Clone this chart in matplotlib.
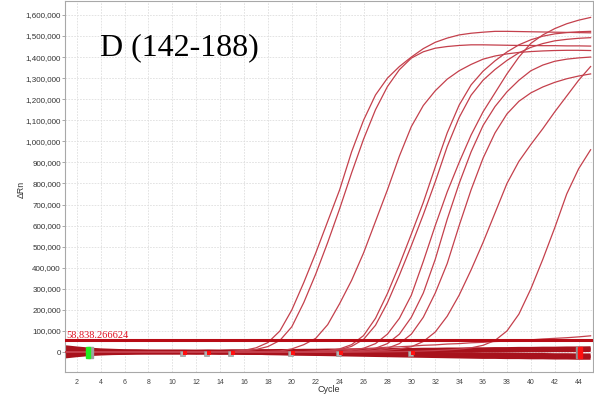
import numpy as np
import matplotlib
matplotlib.use("Agg")
import matplotlib.pyplot as plt
from matplotlib.patches import Rectangle

# cycles 1..45
cycles = list(range(1, 46))

# amplification curves, delta Rn in thousands
curve_a = [2, 1, 0, 0, -1, 0, 1, 0, 0, -1, 0, 0, 1, 1,
           3, 8, 20, 45, 100, 200, 330, 470, 620, 770, 950, 1100, 1220, 1300, 1355, 1400,
           1440, 1470, 1490, 1505, 1513, 1518, 1522, 1522, 1521, 1520, 1519, 1518, 1517, 1516, 1515]
curve_b = [-2, -1, 0, 0, 0, 1, 0, 0, -1, 0, 0, 1, 0, 1,
           2, 5, 12, 26, 55, 120, 235, 370, 520, 680, 850, 1010, 1150, 1260, 1340, 1395,
           1425, 1442, 1450, 1455, 1458, 1458, 1457, 1456, 1455, 1455, 1454, 1454, 1453, 1453, 1452]
curve_c = [0, 1, 0, -1, 0, 0, 1, 0, 0, 0, -1, 0, 0, 1, 0, 1, 2, 3,
           5, 15, 35, 65, 130, 230, 340, 470, 620, 770, 930, 1070, 1170, 1240, 1295, 1335,
           1365, 1390, 1405, 1415, 1422, 1426, 1429, 1431, 1432, 1432, 1431]
curve_d = [1, 0, 0, 0, -1, 0, 0, 1, 0, 0, 0, 0, -1, 0, 0, 1, 0, 0, 1, 1, 1,
           2, 6, 15, 35, 78, 160, 278, 414, 560, 710, 878, 1040, 1172, 1268, 1333, 1382,
           1424, 1458, 1482, 1499, 1510, 1516, 1520, 1522]
curve_e = [0, -1, 0, 0, 1, 0, 0, 0, 0, -1, 0, 0, 0, 1, 0, 0, 0, 1, 0, 0, 1,
           1, 4, 11, 27, 60, 127, 234, 365, 505, 652, 808, 975, 1113, 1219, 1290, 1341,
           1384, 1420, 1446, 1464, 1477, 1484, 1489, 1492]
curve_f = [0, 0, 1, 0, 0, -1, 0, 0, 0, 1, 0, 0, 0, 0, -1, 0, 0, 0, 1, 0, 0, 1, 1,
           3, 8, 18, 40, 85, 160, 270, 430, 600, 760, 900, 1030, 1140, 1230, 1320, 1400,
           1465, 1505, 1535, 1558, 1575, 1588]
curve_g = [0, 1, 0, 0, 0, 0, -1, 0, 0, 0, 1, 0, 0, 0, 0, 0, -1, 0, 0, 0, 1, 0, 1, 1,
           3, 8, 18, 40, 85, 165, 280, 440, 630, 800, 950, 1075, 1165, 1235, 1290, 1335,
           1362, 1380, 1390, 1396, 1400]
curve_h = [-1, 0, 0, 0, 1, 0, 0, 0, 0, 0, 0, -1, 0, 0, 0, 0, 1, 0, 0, 0, 0, 0, 1, 1, 2,
           3, 8, 18, 40, 85, 165, 280, 420, 600, 770, 920, 1040, 1130, 1190, 1230, 1258,
           1280, 1297, 1310, 1320]
curve_i = [0, 0, 0, 1, 0, 0, 0, -1, 0, 0, 0, 0, 0, 1, 0, 0, 0, 0, -1, 0, 0, 0, 1, 1, 2, 3,
           5, 9, 15, 25, 50, 95, 170, 270, 390, 520, 660, 800, 905, 985, 1060, 1140,
           1215, 1290, 1355]
curve_j = [1, 0, 0, 0, 0, -1, 0, 0, 0, 0, 0, 1, 0, 0, 0, 0, 0, -1, 0, 0, 0, 0, 1, 0, 0, 0,
           1, 1, 2, 3, 5, 7, 10, 14, 20, 32, 55, 100, 180, 300, 440, 590, 750, 870, 960]
curve_k = [0, 0, 0, 1, 0, 0, 0, 0, -1, 0, 0, 0, 0, 0, 1, 0, 0, 0, 0, 0,
           2, 5, 7, 11, 13, 17, 19, 23, 25, 28, 32, 34, 38, 40, 44, 46, 50, 52, 56, 58,
           62, 65, 68, 72, 77]
amp_curves = [curve_a, curve_b, curve_c, curve_d, curve_e, curve_f,
              curve_g, curve_h, curve_i, curve_j, curve_k]

# negative / flat wells forming the thick band round zero
flat_1 = [22, 16, 11, 7, 5, 3, 2, 1, 0, 0, 0, -1, -1, -2, -2, -3, -3, -4, -4, -5,
          -5, -6, -6, -7, -7, -8, -8, -9, -9, -10, -10, -11, -11, -12, -12, -13, -13,
          -14, -14, -15, -15, -16, -16, -17, -17]
flat_2 = [-20, -14, -9, -6, -4, -3, -2, -1, 0, 0, 0, 0, 1, 1, 2, 2, 3, 3, 4, 4,
          5, 5, 6, 6, 7, 7, 8, 8, 9, 9, 10, 10, 11, 11, 12, 12, 13, 13, 14, 14,
          15, 15, 16, 16, 17]
flat_3 = [8, 6, 4, 3, 2, 1, 1, 0, 0, 0, 0, 0, 0, -1, -1, -2, -3, -4, -5, -6,
          -7, -8, -9, -10, -11, -12, -13, -14, -15, -16, -17, -18, -19, -20, -21, -22,
          -22, -23, -23, -24, -24, -25, -25, -26, -26]
flat_4 = [-8, -5, -3, -2, -1, -1, 0, 0, 0, 0, 0, 0, 0, 0, 1, 1, 1, 2, 2, 2,
          3, 3, 3, 4, 4, 4, 5, 5, 5, 6, 6, 6, 7, 7, 7, 8, 8, 8, 9, 9, 9, 10, 10, 10, 11]
flat_wells = [flat_1, flat_2, flat_3, flat_4]

threshold = 58838.266624
baseline_red = [11, 13, 15, 20, 24, 30]
baseline_start = 3
baseline_end = 44

fig = plt.figure(figsize=(5.94, 3.96), dpi=100)
ax = fig.add_axes([65 / 594, 1 - 372 / 396, 528 / 594, 371 / 396])

ax.set_xlim(1.02, 45.2)
ax.set_ylim(-94700, 1666000)

band_col = "#a8121c"
for w in flat_wells:
    ax.plot(cycles, np.array(w) * 1000, color=band_col, lw=3.2, solid_capstyle="butt", zorder=2)

for c in amp_curves:
    ax.plot(cycles, np.array(c) * 1000, color="#c4404c", lw=0.9, zorder=3)

# threshold line and its label
ax.axhline(threshold, color="#b80c16", lw=2.2, zorder=4)
ax.text(1.1, threshold + 3000, f"{threshold:,.6f}", color="#e01020", fontsize=7.5,
        family="Liberation Serif", ha="left", va="bottom", zorder=5)

# baseline start / end markers
for c in baseline_red:
    ax.plot([c - 0.15], [-4000], marker="s", ms=3.6, color="#b0b0b0", mec="#909090", mew=0.4, zorder=5)
    ax.plot([c + 0.1], [-4000], marker="s", ms=2.8, color="#ff1010", mew=0, zorder=6)
ax.add_patch(Rectangle((baseline_start - 0.05, -28000), 0.45, 52000, color="#a0a0a0", zorder=5))
ax.add_patch(Rectangle((baseline_start - 0.2, -28000), 0.35, 52000, color="#22ee22", zorder=6))
ax.add_patch(Rectangle((baseline_end - 0.25, -26000), 0.4, 50000, color="#909090", zorder=5))
ax.add_patch(Rectangle((baseline_end - 0.05, -26000), 0.3, 50000, color="#ff1010", zorder=6))

# axes styling
ax.set_xticks(range(2, 45, 2))
ax.set_yticks(range(0, 1600001, 100000))
ax.set_yticklabels([f"{v:,}" for v in range(0, 1600001, 100000)])
ax.tick_params(axis="y", labelsize=5.8, labelcolor="#333333", color="#999999", length=2, width=0.6, pad=1)
ax.tick_params(axis="x", labelsize=5, labelcolor="#444444", color="#999999", length=0, pad=5)
for lab in ax.get_xticklabels() + ax.get_yticklabels():
    lab.set_family("Liberation Sans")
ax.grid(True, color="#dedede", lw=0.6, ls=(0, (2, 1.5)), zorder=0)
for s in ax.spines.values():
    s.set_color("#a8a8a8")
    s.set_linewidth(0.8)

fig.text(21 / 594, 1 - 189 / 396, "ΔRn", rotation=90, fontsize=6.3, color="#333333",
         family="Liberation Sans", ha="center", va="center")
fig.text(329 / 594, 1 - 390 / 396, "Cycle", fontsize=6.5, color="#333333",
         family="Liberation Sans", ha="center", va="center")

ax.text(0.066, 0.875, "D (142-188)", transform=ax.transAxes, fontsize=23,
        family="Liberation Serif", ha="left", va="center", zorder=7)

fig.savefig("out.png", dpi=100)
